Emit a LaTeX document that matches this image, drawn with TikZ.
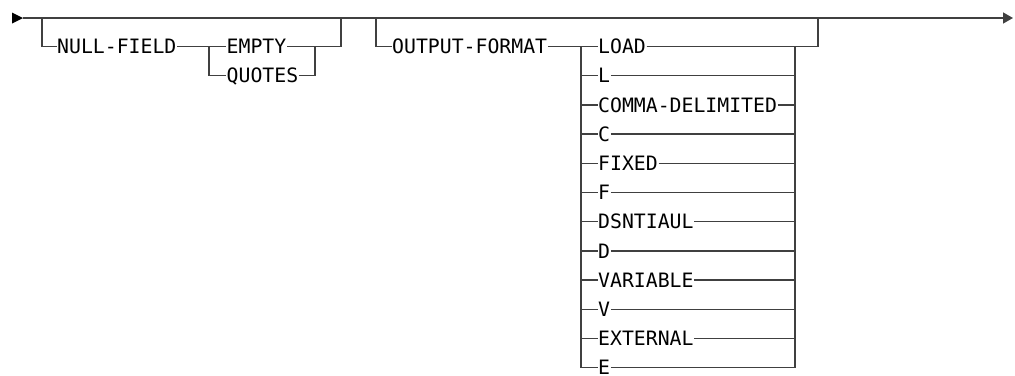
\documentclass[tikz,border=0pt]{standalone}
\usepackage{fontspec}
\newfontfamily\railfont{DejaVu Sans Mono}
\usetikzlibrary{positioning, arrows.meta, calc}
\tikzset{
    rail/.style={draw=black!75, line width=1.5pt},
    kw/.style={anchor=west, inner xsep=0.5pt, inner ysep=0pt, text height=14.4pt, text depth=0pt, font=\railfont\fontsize{19.8}{20}\selectfont},
}

\begin{document}
\begin{tikzpicture}[x=1pt, y=-1pt]
    \useasboundingbox (0,0) rectangle (1015,375);
    % main line
    \coordinate (start) at (23,18);
    \coordinate (stop) at (1013,18);
    \fill[black] (12,12.5) -- (start) -- (12,23.5) -- cycle;
    \draw[rail, -{Triangle[length=10pt,width=11pt]}] (start) -- (stop);
    % NULL-FIELD group
    \coordinate (nfin) at (42,18);
    \coordinate (nfout) at (341,18);
    \coordinate (nfsplit) at (209,46.5);
    \coordinate (nfjoin) at (315,46.5);
    \node[kw] (nullfield) at (56.5,46.5) {NULL-FIELD};
    \node[kw] (empty) at (226,46.5) {EMPTY};
    \node[kw] (quotes) at (226,75.7) {QUOTES};
    \draw[rail] (nfin) |- (nullfield.west);
    \draw[rail] (nullfield.east) -- (empty.west);
    \draw[rail] (nfsplit) |- (quotes.west);
    \draw[rail] (empty.east) -| (nfout);
    \draw[rail] (quotes.east) -| (nfjoin);
    % OUTPUT-FORMAT group
    \coordinate (ofin) at (376,18);
    \coordinate (ofout) at (818,18);
    \coordinate (ofsplit) at (581,46.5);
    \coordinate (ofjoin) at (795,46.5);
    \node[kw] (outfmt) at (391.5,46.5) {OUTPUT-FORMAT};
    \draw[rail] (ofin) |- (outfmt.west);
    \draw[rail] (outfmt.east) -- (ofsplit);
    \foreach \name/\txt [count=\i from 0] in {load/LOAD, l/L, comma/COMMA-DELIMITED, c/C, fixed/FIXED, f/F, dsn/DSNTIAUL, d/D, var/VARIABLE, v/V, ext/EXTERNAL, e/E} {
        \node[kw] (\name) at (597.5,{46.5+29.2*\i}) {\txt};
        \draw[rail] (ofsplit) |- (\name.west);
        \draw[rail] (\name.east) -| (ofjoin);
    }
    \draw[rail] (load.east) -| (ofout);
\end{tikzpicture}
\end{document}
